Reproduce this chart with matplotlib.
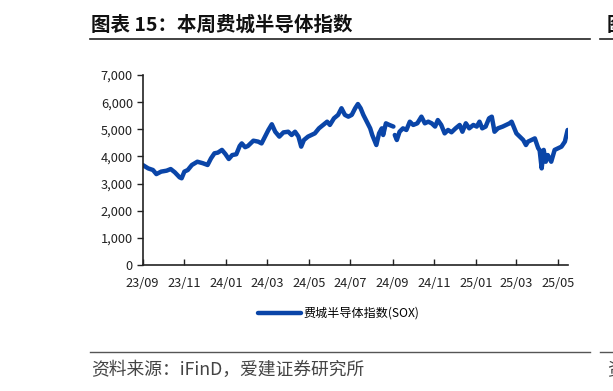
import matplotlib
matplotlib.use("Agg")
import matplotlib.pyplot as plt
import numpy as np
import pandas as pd

plt.rcParams['font.family'] = ['Noto Sans CJK SC', 'DejaVu Sans']

start_date = "2023-09-01"
# calendar days after start_date
days = [0, 8, 15, 20, 27, 35, 41, 47, 54, 57, 61, 66, 72, 80, 88, 95, 100, 105, 110, 116,
        121, 126, 131, 137, 142, 145, 150, 154, 162, 169, 174, 179, 184, 189, 194, 200, 206,
        213, 218, 223, 228, 232, 236, 242, 247, 252, 258, 264, 270, 274, 280, 286, 291, 296,
        301, 306, 311, 315, 319, 323, 328, 333, 336, 340, 342, 346, 350, 352, 356, 361, 367,
        368, 369, 372, 376, 381, 386, 391, 396, 402, 408, 413, 418, 423, 428, 432, 437, 442,
        447, 452, 458, 464, 468, 473, 478, 484, 489, 493, 497, 502, 507, 511, 515, 520, 527,
        532, 537, 540, 543, 547, 552, 557, 561, 564, 569, 574, 579, 581, 584, 587, 590, 593,
        598, 603, 608, 613, 618, 622]
sox = [3685, 3560, 3500, 3350, 3440, 3475, 3535, 3415, 3230, 3195, 3440, 3500, 3685, 3805,
       3750, 3685, 3930, 4115, 4140, 4240, 4090, 3905, 4050, 4080, 4385, 4480, 4340, 4385,
       4580, 4545, 4480, 4730, 4975, 5185, 4910, 4730, 4885, 4910, 4790, 4910, 4730, 4360,
       4605, 4730, 4790, 4850, 5035, 5160, 5280, 5160, 5405, 5530, 5775, 5530, 5465, 5530,
       5775, 5930, 5775, 5530, 5280, 5035, 4790, 4545, 4420, 4850, 5035, 4790, 5220, 5160,
       5100, np.nan, 4790, 4605, 4910, 5035, 4975, 5280, 5160, 5220, 5465, 5220, 5280, 5220,
       5100, 5340, 5160, 4850, 4975, 4890, 5035, 5160, 4910, 5220, 5035, 5160, 5100, 5280,
       5035, 5100, 5405, 5465, 4910, 5035, 5100, 5160, 5220, 5280, 5100, 4850, 4730, 4605,
       4420, 4545, 4605, 4665, 4300, 4240, 3560, 4240, 3805, 4050, 3805, 4240, 4300, 4360,
       4545, 4975]
series_name = "费城半导体指数(SOX)"
y_ticks = [0, 1000, 2000, 3000, 4000, 5000, 6000, 7000]
x_tick_dates = ["2023-09-01", "2023-11-01", "2024-01-01", "2024-03-01", "2024-05-01",
                "2024-07-01", "2024-09-01", "2024-11-01", "2025-01-01", "2025-03-01", "2025-05-01"]

d = pd.Timestamp(start_date) + pd.to_timedelta(days, unit="D")
xt = pd.to_datetime(x_tick_dates)

fig = plt.figure(figsize=(6.13, 3.91), dpi=100)
ax = fig.add_axes([142.7 / 613, 1 - 265 / 391, (568.3 - 142.7) / 613, 190 / 391])
ax.plot(d, sox, color="#0a45a8", lw=3.2, solid_joinstyle="round", solid_capstyle="round",
        label=series_name)
ax.set_xlim(pd.Timestamp(start_date), d[-1] + pd.Timedelta(days=1))
ax.set_ylim(0, 7000)
ax.set_yticks(y_ticks)
ax.set_yticklabels([f"{v:,}" for v in y_ticks], fontsize=9.2, color="#222222")
ax.set_xticks(xt)
ax.set_xticklabels([t.strftime("%y/%m") for t in xt], fontsize=9.2, color="#222222")
ax.tick_params(axis="y", direction="out", length=4, width=1, colors="#222222", pad=3)
ax.tick_params(axis="x", direction="in", length=4, width=1, colors="#222222", pad=8.5)
for s in ["top", "right"]:
    ax.spines[s].set_visible(False)
for s in ["left", "bottom"]:
    ax.spines[s].set_color("#222222")
    ax.spines[s].set_linewidth(1.2)

leg = fig.legend(loc="center left", bbox_to_anchor=(258 / 613, 1 - 313.5 / 391), frameon=False,
                 fontsize=8.7, handlelength=3.55, handletextpad=0.25, borderpad=0,
                 borderaxespad=0)

# title
fig.text(91 / 613, 1 - 25.5 / 391, "图表 15：本周费城半导体指数", fontsize=14, fontweight="bold",
         color="#111111", va="center", ha="left")
fig.add_artist(plt.Line2D([90 / 613, 590 / 613], [1 - 38.5 / 391] * 2, color="#222222", lw=1.2))
fig.text(607 / 613, 1 - 25.5 / 391, "图", fontsize=14, fontweight="bold",
         color="#111111", va="center", ha="left")
fig.add_artist(plt.Line2D([600 / 613, 1.0], [1 - 38.5 / 391] * 2, color="#222222", lw=1.2))

# source
fig.add_artist(plt.Line2D([90 / 613, 590 / 613], [1 - 352 / 391] * 2, color="#555555", lw=1.0))
fig.add_artist(plt.Line2D([600 / 613, 1.0], [1 - 352 / 391] * 2, color="#555555", lw=1.0))
fig.text(91 / 613, 1 - 370 / 391, "资料来源：iFinD，爱建证券研究所", fontsize=12.8, color="#444444",
         va="center", ha="left")
fig.text(607 / 613, 1 - 370 / 391, "资", fontsize=12.8, color="#444444", va="center", ha="left")

fig.savefig("out.png", dpi=100)
